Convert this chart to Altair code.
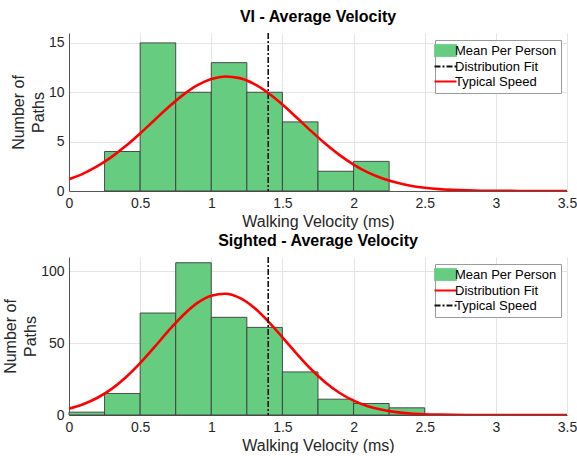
import altair as alt
import pandas as pd

# ---------------- data ----------------
vi_bin_start = [0.25, 0.50, 0.75, 1.00, 1.25, 1.50, 1.75, 2.00]
vi_bin_end = [0.50, 0.75, 1.00, 1.25, 1.50, 1.75, 2.00, 2.25]
vi_counts = [4, 15, 10, 13, 10, 7, 2, 3]

s_bin_start = [0.00, 0.25, 0.50, 0.75, 1.00, 1.25, 1.50, 1.75, 2.00, 2.25]
s_bin_end = [0.25, 0.50, 0.75, 1.00, 1.25, 1.50, 1.75, 2.00, 2.25, 2.50]
s_counts = [2, 15, 71, 106, 68, 61, 30, 11, 8, 5]

curve_x = [0.0, 0.1, 0.2, 0.3, 0.4, 0.5, 0.6, 0.7, 0.8, 0.9,
           1.0, 1.1, 1.2, 1.3, 1.4, 1.5, 1.6, 1.7, 1.8, 1.9,
           2.0, 2.1, 2.2, 2.3, 2.4, 2.5, 2.6, 2.7, 2.8, 2.9,
           3.0, 3.1, 3.2, 3.3, 3.4, 3.5]
vi_curve = [1.19, 1.76, 2.51, 3.45, 4.57, 5.83, 7.17, 8.50, 9.71, 10.69,
            11.34, 11.60, 11.43, 10.85, 9.93, 8.76, 7.44, 6.09, 4.81, 3.66,
            2.68, 1.89, 1.29, 0.85, 0.53, 0.33, 0.19, 0.11, 0.06, 0.03,
            0.01, 0.01, 0.0, 0.0, 0.0, 0.0]
s_curve = [4.4, 7.5, 12.0, 18.2, 26.3, 36.1, 47.2, 58.7, 69.3, 77.9,
           83.1, 84.4, 81.5, 74.8, 65.2, 54.1, 42.7, 32.0, 22.8, 15.5,
           10.0, 6.1, 3.6, 2.0, 1.0, 0.5, 0.25, 0.11, 0.05, 0.02,
           0.01, 0.0, 0.0, 0.0, 0.0, 0.0]

typical_speed = [1.4]

x_ticks = [0, 0.5, 1, 1.5, 2, 2.5, 3, 3.5]
vi_y_ticks = [0, 5, 10, 15]
s_y_ticks = [0, 50, 100]

legend_labels = ["Mean Per Person", "Distribution Fit", "Typical Speed"]

# ---------------- style ----------------
GREEN = "#66cc80"
RED = "#ff0000"
BLACK = "#111111"
EDGE = "#3c3c3c"
FONT = "Liberation Sans"
W, H = 498, 158


def panel(title, bs, be, cnt, curve, ymax, yticks, curve_label, rule_label):
    bars_df = pd.DataFrame({"start": bs, "end": be, "count": cnt,
                            "series": legend_labels[0]})
    curve_df = pd.DataFrame({"x": curve_x, "y": curve, "series": curve_label})
    rule_df = pd.DataFrame({"x": typical_speed, "series": rule_label})

    colors = {"Mean Per Person": GREEN, curve_label: RED, rule_label: BLACK}
    color_scale = alt.Scale(domain=legend_labels,
                            range=[colors[l] for l in legend_labels])

    stroke_expr = ("datum.value === 'Mean Per Person' ? '%s' : "
                   "(datum.value === '%s' ? '%s' : '%s')") % (EDGE, curve_label, RED, BLACK)
    shape_expr = "datum.value === 'Mean Per Person' ? 'M-1,-0.55H1V0.55H-1Z' : 'M-1,0H1'"
    dash_expr = "datum.value === '%s' ? [6,2,2,2] : [1,0]" % rule_label
    sw_expr = "datum.value === 'Mean Per Person' ? 1 : 2"

    legend = alt.Legend(
        orient="none", legendX=366, legendY=7,
        title=None,
        labelFont=FONT, labelFontSize=13, labelColor="black", labelOffset=3,
        padding=4, rowPadding=1,
        strokeColor="#9a9a9a", fillColor="white",
        symbolSize=484, symbolOpacity=1,
        symbolType={"expr": shape_expr},
        symbolStrokeColor={"expr": stroke_expr},
        symbolDash={"expr": dash_expr},
        symbolStrokeWidth={"expr": sw_expr},
    )
    color = alt.Color("series:N", scale=color_scale, legend=legend, title=None)

    xs = alt.Scale(domain=[0, 3.5], nice=False)
    ys = alt.Scale(domain=[0, ymax], nice=False)
    xaxis = alt.Axis(values=x_ticks, format="~g", title="Walking Velocity (ms)",
                     labelFlush=False, labelPadding=5, titlePadding=3,
                     titleFontSize=16)
    yaxis = alt.Axis(values=yticks, title=["Number of", "Paths"],
                     labelPadding=5, titlePadding=2, titleLineHeight=20)

    bars = alt.Chart(bars_df).mark_bar(
        stroke=EDGE, strokeWidth=1, strokeOpacity=0.9, opacity=1
    ).encode(
        x=alt.X("start:Q", scale=xs, axis=xaxis),
        x2="end:Q",
        y=alt.Y("count:Q", scale=ys, axis=yaxis),
        y2=alt.datum(0),
        color=color,
    )
    line = alt.Chart(curve_df).mark_line(
        strokeWidth=2.6, interpolate="monotone", clip=True
    ).encode(
        x=alt.X("x:Q", scale=xs),
        y=alt.Y("y:Q", scale=ys),
        color=color,
    )
    rule = alt.Chart(rule_df).mark_rule(
        strokeWidth=1.6, strokeDash=[6, 2, 2, 2]
    ).encode(
        x=alt.X("x:Q", scale=xs),
        color=color,
    )
    if legend_labels.index(curve_label) < legend_labels.index(rule_label):
        layers = [bars, line, rule]
    else:
        layers = [bars, rule, line]
    return alt.layer(*layers).properties(
        width=W, height=H,
        title=alt.TitleParams(title, fontSize=16, fontWeight="bold", font=FONT,
                              color="black", anchor="middle", offset=7),
    )


top = panel("VI - Average Velocity", vi_bin_start, vi_bin_end, vi_counts,
            vi_curve, 16, vi_y_ticks, "Typical Speed", "Distribution Fit")
bottom = panel("Sighted - Average Velocity", s_bin_start, s_bin_end, s_counts,
               s_curve, 110, s_y_ticks, "Distribution Fit", "Typical Speed")

chart = alt.vconcat(top, bottom, spacing=4).resolve_scale(
    color="independent"
).properties(
    padding={"left": 2, "top": 9, "right": 0, "bottom": 0}
).configure_view(
    strokeOpacity=0
).configure_axis(
    labelFont=FONT, titleFont=FONT,
    labelFontSize=14, titleFontSize=15,
    labelColor="#262626", titleColor="#262626",
    titleFontWeight="normal",
    domainColor="#555555", domainWidth=1,
    gridColor="#e4e4e4", gridWidth=1,
    ticks=False,
).configure_axisY(
    titleFontSize=16,
)

chart.save("out.html", embed_options={"renderer": "svg", "actions": False})
